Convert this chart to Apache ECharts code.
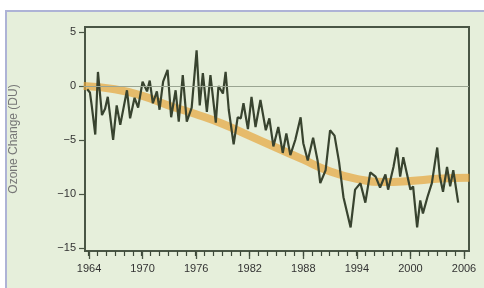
<!DOCTYPE html>
<html>
<head>
<meta charset="utf-8">
<script src="https://cdn.jsdelivr.net/npm/echarts@6/dist/echarts.min.js"></script>
<style>
  html, body { margin: 0; padding: 0; background: #fff; }
  #frame { position: absolute; left: 5px; top: 10px; width: 479px; height: 278px;
           background: #e6efdb; border-left: 2px solid #aeb3d6; border-top: 2px solid #aeb3d6;
           box-sizing: border-box; }
  #chart { position: absolute; left: 0; top: 0; width: 484px; height: 288px; }
</style>
</head>
<body>
<div id="frame"></div>
<div id="chart"></div>
<script>
const years = [1963.8, 1964.1, 1964.3, 1964.7, 1965.0, 1965.45, 1965.8, 1966.1, 1966.7, 1967.1,
  1967.5, 1968.25, 1968.6, 1969.1, 1969.5, 1970.0, 1970.5, 1970.8, 1971.15, 1971.6,
  1971.9, 1972.3, 1972.8, 1973.2, 1973.7, 1974.05, 1974.5, 1974.95, 1975.5, 1976.05,
  1976.4, 1976.75, 1977.2, 1977.6, 1978.2, 1978.5, 1979.0, 1979.3, 1979.65, 1980.2,
  1980.65, 1981.0, 1981.3, 1981.8, 1982.2, 1982.65, 1983.2, 1983.8, 1984.2, 1984.65,
  1985.2, 1985.7, 1986.1, 1986.55, 1987.1, 1987.7, 1988.0, 1988.5, 1989.1, 1989.6,
  1989.9, 1990.5, 1991.0, 1991.5, 1992.0, 1992.5, 1993.3, 1993.8, 1994.4, 1994.95,
  1995.5, 1996.1, 1996.6, 1997.2, 1997.5, 1998.1, 1998.5, 1998.85, 1999.2, 1999.6,
  2000.0, 2000.3, 2000.75, 2001.1, 2001.4, 2001.9, 2002.4, 2003.0, 2003.3, 2003.65,
  2004.1, 2004.45, 2004.8, 2005.35];
const ozone = [-0.3, -0.6, -1.8, -4.5, 1.3, -2.7, -2.1, -1.0, -5.0, -1.8,
  -3.6, -0.4, -3.0, -1.1, -2.0, 0.4, -0.5, 0.5, -1.6, -0.5,
  -2.2, 0.4, 1.5, -2.9, -0.4, -3.3, 1.0, -3.3, -2.0, 3.3,
  -1.8, 1.2, -2.4, 1.0, -3.4, 0.0, -0.7, 1.3, -2.2, -5.4,
  -2.9, -3.0, -1.6, -4.0, -1.0, -3.8, -1.3, -4.1, -3.0, -5.6,
  -3.8, -6.2, -4.4, -6.4, -5.0, -2.9, -5.3, -6.9, -4.8, -6.9,
  -9.0, -7.8, -4.1, -4.6, -7.0, -10.3, -13.1, -9.6, -9.0, -10.8,
  -8.0, -8.4, -9.4, -8.2, -9.6, -7.5, -5.7, -8.4, -6.6, -8.1,
  -9.6, -9.3, -13.1, -10.6, -11.8, -10.3, -9.0, -5.7, -8.4, -9.8,
  -7.5, -9.3, -7.8, -10.8];

// smooth trend (orange band)
const trendYears = [1963.5, 1967, 1970, 1973, 1976, 1979, 1982, 1985, 1988, 1991, 1994, 1997, 2000, 2003, 2006.6];
const trend = [0.0, -0.3, -0.9, -1.8, -2.6, -3.5, -4.6, -5.7, -6.8, -7.9, -8.6, -8.9, -8.8, -8.6, -8.5];

const xTicks = [1964, 1970, 1976, 1982, 1988, 1994, 2000, 2006];
const xMinorTicks = [];
for (let y = 1964; y <= 2006; y++) xMinorTicks.push(y);
const yTicks = [-15, -10, -5, 0, 5];

const dark = '#4a5645';
const font = 'Liberation Sans, Arial, sans-serif';
const chart = echarts.init(document.getElementById('chart'));

const box = { left: 84, right: 15, top: 27, bottom: 37 };
const xRange = { type: 'value', min: 1963.55, max: 2006.56, position: 'bottom' };
const yRange = { type: 'value', min: -15.28, max: 5.46 };

chart.setOption({
  animation: false,
  backgroundColor: 'transparent',
  grid: [
    Object.assign({ show: true, borderColor: dark, borderWidth: 2, backgroundColor: 'transparent' }, box),
    Object.assign({}, box)
  ],
  xAxis: [
    Object.assign({}, xRange, {
      gridIndex: 0,
      axisLine: { show: false, onZero: false }, splitLine: { show: false },
      axisTick: { show: true, length: 8, lineStyle: { color: dark, width: 1.3 }, customValues: xTicks },
      axisLabel: { customValues: xTicks, color: '#333', fontSize: 11, margin: 12, fontFamily: font,
        formatter: v => String(v) }
    }),
    Object.assign({}, xRange, {
      gridIndex: 1,
      axisLine: { show: false, onZero: false }, splitLine: { show: false },
      axisTick: { show: true, length: 5, lineStyle: { color: '#3e4a3a', width: 1.2 }, customValues: xMinorTicks },
      axisLabel: { show: false }
    })
  ],
  yAxis: [
    Object.assign({}, yRange, {
      gridIndex: 0,
      name: 'Ozone Change (DU)', nameLocation: 'middle', nameGap: 65, nameRotate: 90,
      nameTextStyle: { color: '#777', fontSize: 12, fontFamily: font },
      axisLine: { show: false, onZero: false },
      splitLine: { show: false },
      axisTick: { show: true, length: 6, lineStyle: { color: dark, width: 1.2 }, customValues: yTicks },
      axisLabel: { customValues: yTicks, color: '#333', fontSize: 11, margin: 9, fontFamily: font,
        formatter: v => String(v).replace('-', '\u2212') }
    }),
    Object.assign({}, yRange, {
      gridIndex: 1,
      axisLine: { show: false, onZero: false }, splitLine: { show: false },
      axisTick: { show: false }, axisLabel: { show: false }
    })
  ],
  series: [
    {
      type: 'line', smooth: true, symbol: 'none', silent: true,
      xAxisIndex: 1, yAxisIndex: 1,
      data: trendYears.map((y, i) => [y, trend[i]]),
      lineStyle: { color: 'rgba(230,165,60,0.7)', width: 8 },
      markLine: {
        silent: true, symbol: 'none', label: { show: false },
        lineStyle: { color: '#9aa592', width: 1, type: 'solid' },
        data: [{ yAxis: 0 }]
      },
      z: 1
    },
    {
      type: 'line', symbol: 'none', silent: true,
      xAxisIndex: 0, yAxisIndex: 0,
      data: years.map((y, i) => [y, ozone[i]]),
      lineStyle: { color: '#38432f', width: 2.2 },
      z: 3
    }
  ]
});
</script>
</body>
</html>
